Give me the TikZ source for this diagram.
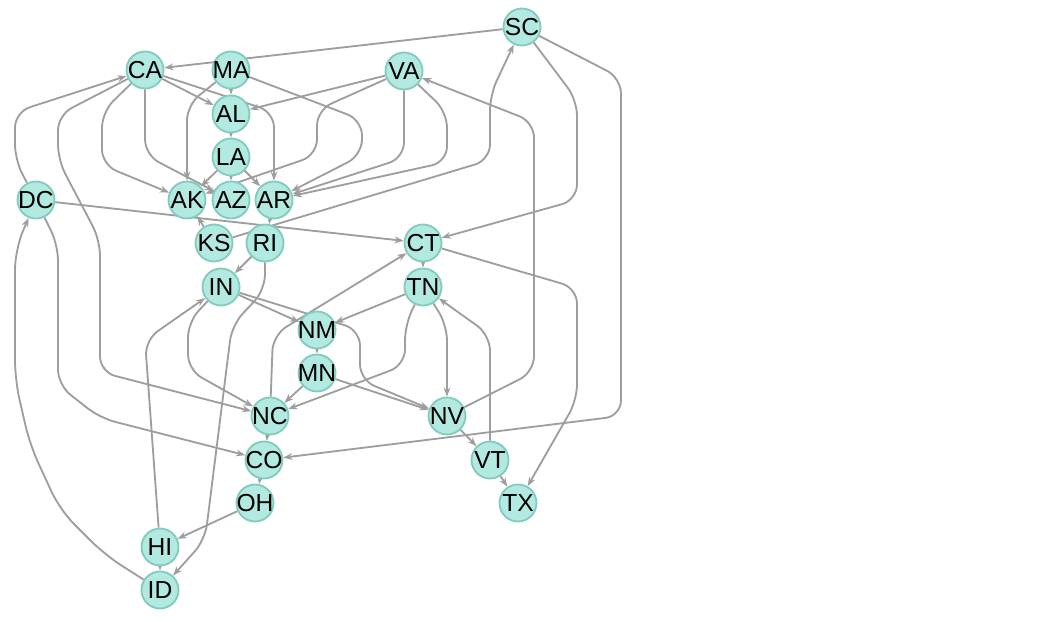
\documentclass[tikz,border=0pt]{standalone}
\usepackage{fontspec}
\setsansfont{Liberation Sans}
\usepackage{tikz}
\usetikzlibrary{arrows.meta,backgrounds}
\definecolor{statefill}{RGB}{178,234,225}
\definecolor{stateline}{RGB}{130,203,191}
\definecolor{linkgray}{RGB}{158,158,158}

\begin{document}
\begin{tikzpicture}[x=0.025cm,y=-0.025cm,
    state/.style={circle,draw=stateline,line width=1.3pt,fill=statefill,minimum size=0.925cm,inner sep=-5pt,font=\sffamily\fontsize{17.5}{20}\selectfont},
    link/.style={draw=linkgray,line width=1.3pt,rounded corners=11pt},
    >={Stealth[length=6.5pt,width=4.8pt]}]
      \node [state] (SC) at (522,27) {SC};
      \node [state] (CA) at (145,70) {CA};
      \node [state] (MA) at (231,70) {MA};
      \node [state] (VA) at (404,71) {VA};
      \node [state] (AL) at (231,114) {AL};
      \node [state] (LA) at (231,157) {LA};
      \node [state] (AK) at (187,200) {AK};
      \node [state] (AZ) at (231,200) {AZ};
      \node [state] (AR) at (274,200) {AR};
      \node [state] (DC) at (36,200) {DC};
      \node [state] (KS) at (214,243) {KS};
      \node [state] (RI) at (265,243) {RI};
      \node [state] (CT) at (423,243) {CT};
      \node [state] (IN) at (221,287) {IN};
      \node [state] (TN) at (423,287) {TN};
      \node [state] (NM) at (317,330) {NM};
      \node [state] (MN) at (317,373) {MN};
      \node [state] (NC) at (270,416) {NC};
      \node [state] (NV) at (447,416) {NV};
      \node [state] (CO) at (264,460) {CO};
      \node [state] (VT) at (490,460) {VT};
      \node [state] (OH) at (255,503) {OH};
      \node [state] (TX) at (518,503) {TX};
      \node [state] (HI) at (160,547) {HI};
      \node [state] (ID) at (160,590) {ID};
      \begin{scope}[on background layer]
      \fill [white] (0,0) rectangle (1038,622);
      % top rows
      \draw [link] [->] (SC) -- (CA);
      \draw [link] [->] (SC) -- (577,100) -- (577,200) -- (CT);
      \draw [link] [->] (SC) -- (621,78) -- (621,416) -- (CO);
      \draw [link] [->] (KS) -- (490,160) -- (490,95) -- (SC);
      \draw [link] [->] (MA) -- (AL);
      \draw [link] [->] (MA) -- (187,105) -- (AK);
      \draw [link] [->] (MA) -- (362,120) -- (362,155) -- (AR);
      \draw [link] [->] (VA) -- (AL);
      \draw [link] [->] (VA) -- (317,110) -- (317,155) -- (AK);
      \draw [link] [->] (VA) -- (404,158) -- (AR);
      \draw [link] [->] (VA) -- (447,112) -- (447,162) -- (AR);
      \draw [link] [->] (CA) -- (AL);
      \draw [link] [->] (CA) -- (274,112) -- (AR);
      \draw [link] [->] (CA) -- (102,112) -- (102,165) -- (AK);
      \draw [link] [->] (CA) -- (145,155) -- (AZ);
      \draw [link] [->] (CA) -- (58,115) -- (58,160) -- (100,240) -- (100,372) -- (NC);
      \draw [link] [->] (DC) -- (15,160) -- (15,112) -- (CA);
      \draw [link] [->] (DC) -- (CT);
      \draw [link] [->] (DC) -- (58,245) -- (58,385) -- (100,418) -- (CO);
      \draw [link,rounded corners=14pt] [->] (ID) -- (105,555) -- (60,510) -- (30,445) -- (15,380) -- (15,250) -- (DC);
      \draw [link] [->] (AL) -- (LA);
      \draw [link] [->] (LA) -- (AK);
      \draw [link] [->] (LA) -- (AZ);
      \draw [link] [->] (LA) -- (AR);
      \draw [link] [->] (AR) -- (RI);
      \draw [link] [->] (KS) -- (AK);
      \draw [link] [->] (RI) -- (IN);
      \draw [link] [->] (RI) -- (265,290) -- (232,325) -- (205,540) -- (ID);
      % middle and bottom rows
      \draw [link] [->] (CT) -- (TN);
      \draw [link] [->] (CT) -- (577,288) -- (577,400) -- (TX);
      \draw [link] [->] (TN) -- (NM);
      \draw [link] [->] (TN) -- (405,325) -- (405,365) -- (NC);
      \draw [link] [->] (TN) -- (447,325) -- (NV);
      \draw [link] [->] (VT) -- (490,335) -- (TN);
      \draw [link] [->] (NV) -- (534,372) -- (534,122) -- (VA);
      \draw [link] [->] (NV) -- (VT);
      \draw [link] [->] (VT) -- (TX);
      \draw [link] [->] (IN) -- (NM);
      \draw [link] [->] (IN) -- (360,330) -- (360,380) -- (NV);
      \draw [link] [->] (IN) -- (188,322) -- (188,370) -- (NC);
      \draw [link] [->] (NC) -- (273,335) -- (CT);
      \draw [link] [->] (NM) -- (MN);
      \draw [link] [->] (MN) -- (NC);
      \draw [link] [->] (MN) -- (NV);
      \draw [link] [->] (NC) -- (CO);
      \draw [link] [->] (CO) -- (OH);
      \draw [link] [->] (OH) -- (HI);
      \draw [link] [->] (HI) -- (ID);
      \draw [link] [->] (HI) -- (145,340) -- (IN);
      \end{scope}
\end{tikzpicture}
\end{document}
